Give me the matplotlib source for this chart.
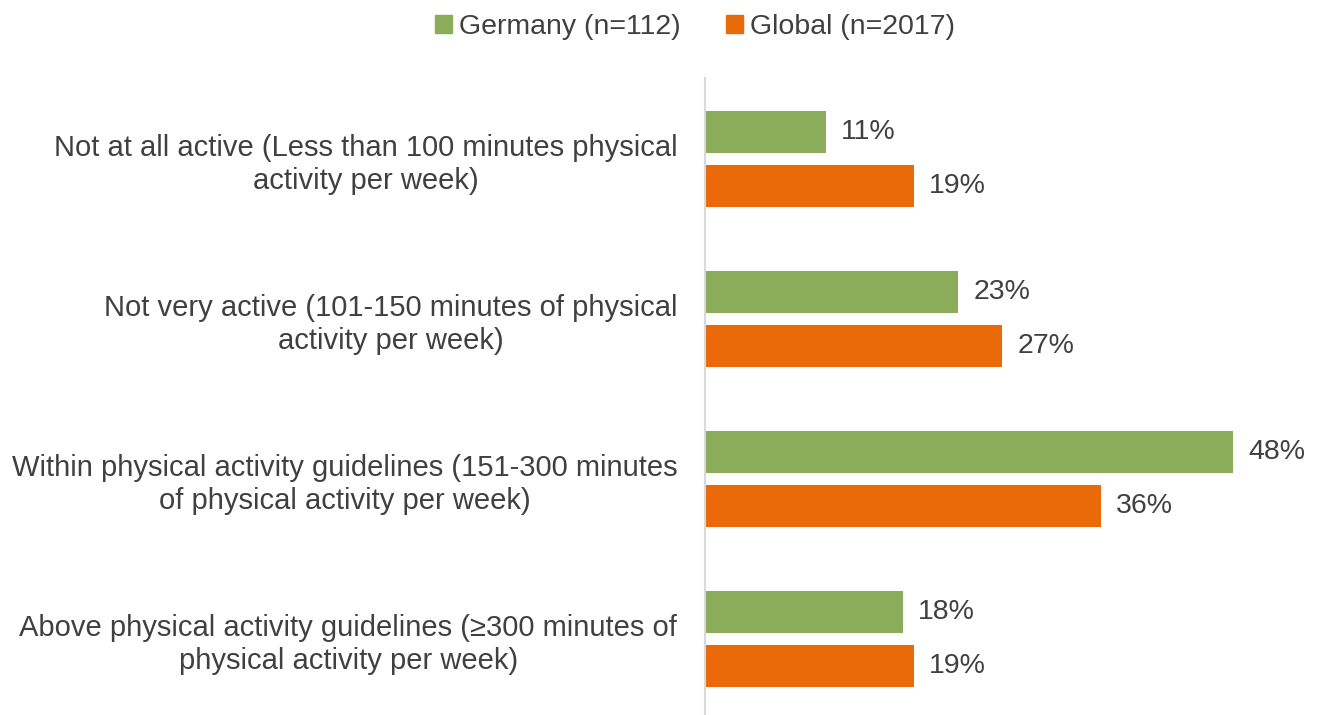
import matplotlib.pyplot as plt
from matplotlib.patches import Patch

categories = [
    "Not at all active (Less than 100 minutes physical\nactivity per week)",
    "Not very active (101-150 minutes of physical\nactivity per week)",
    "Within physical activity guidelines (151-300 minutes\nof physical activity per week)",
    "Above physical activity guidelines (\u2265300 minutes of\nphysical activity per week)",
]
germany = [11, 23, 48, 18]
global_ = [19, 27, 36, 19]
series_names = ["Germany (n=112)", "Global (n=2017)"]

GREEN = "#8BAC5A"
ORANGE = "#EA6A0A"
TEXT = "#404040"
FS = 20.5

plt.rcParams["font.family"] = ["Liberation Sans", "DejaVu Sans"]

W, H = 1318, 715
fig = plt.figure(figsize=(W / 100, H / 100), dpi=100)
ax = fig.add_axes([705 / W, 0, (1310 - 705) / W, 1 - 78 / H])

h = 42 / 160
off = 27 / 160
ys = list(range(len(categories)))
ax.barh([y - off for y in ys], germany, height=h, color=GREEN)
ax.barh([y + off for y in ys], global_, height=h, color=ORANGE)

for y, g, o in zip(ys, germany, global_):
    ax.annotate(f"{g}%", (g, y - off), xytext=(11, 0), textcoords="offset points",
                va="center", ha="left", fontsize=FS, color=TEXT)
    ax.annotate(f"{o}%", (o, y + off), xytext=(11, 0), textcoords="offset points",
                va="center", ha="left", fontsize=FS, color=TEXT)

ax.set_xlim(0, 55)
ax.set_ylim(3.475, -0.506)
ax.set_yticks(ys)
ax.set_yticklabels(categories, fontsize=21, color=TEXT, multialignment="center",
                   linespacing=1.22)
ax.tick_params(axis="y", length=0, pad=20)
ax.set_xticks([])
for s in ["top", "right", "bottom"]:
    ax.spines[s].set_visible(False)
ax.spines["left"].set_color("#D9D9D9")
ax.spines["left"].set_linewidth(1.5)

handles = [Patch(color=GREEN), Patch(color=ORANGE)]
fig.legend(handles, series_names, loc="center", bbox_to_anchor=(695 / W, 1 - 27 / H),
           ncol=2, frameon=False, fontsize=FS, handlelength=0.6, handleheight=0.6,
           handletextpad=0.25, columnspacing=1.6, labelcolor=TEXT)

fig.savefig("out.png", dpi=100)
